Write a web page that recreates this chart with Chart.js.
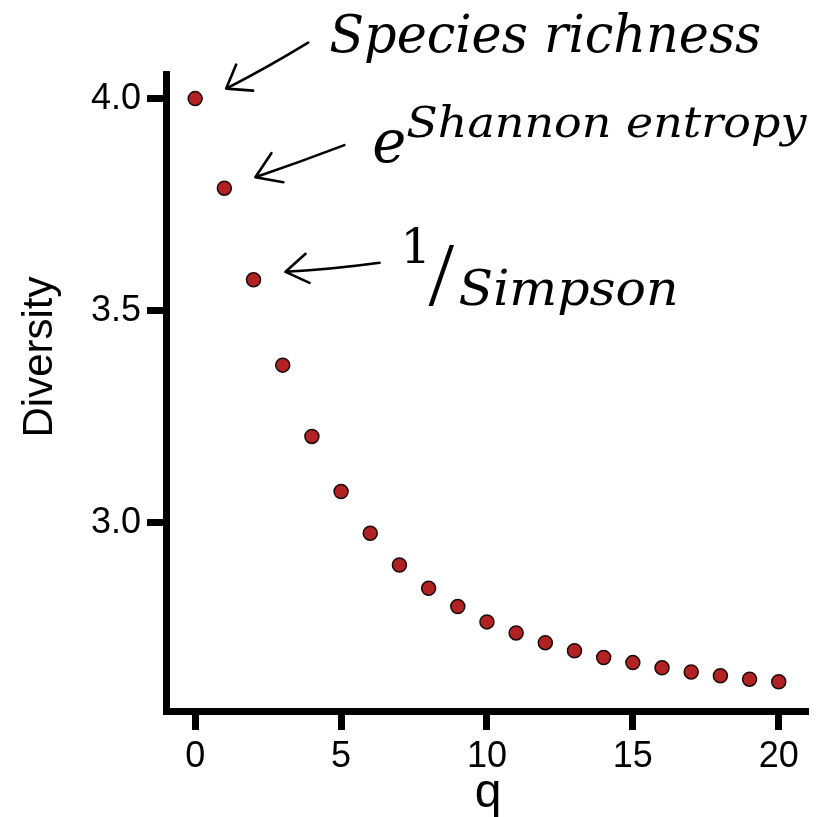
<!DOCTYPE html>
<html>
<head>
<meta charset="utf-8">
<script src="https://cdn.jsdelivr.net/npm/chart.js@4/dist/chart.umd.min.js"></script>
<style>
  html, body { margin: 0; padding: 0; background: #fff; }
  canvas { display: block; }
</style>
</head>
<body>
<canvas id="diversityChart" width="825" height="817"></canvas>
<script>
// Hill numbers of order q for one community
const qValues = [0, 1, 2, 3, 4, 5, 6, 7, 8, 9, 10, 11, 12, 13, 14, 15, 16, 17, 18, 19, 20];
const diversity = [
  4.0, 3.789, 3.573, 3.372, 3.204, 3.074, 2.976, 2.901, 2.846, 2.803, 2.767,
  2.741, 2.718, 2.699, 2.683, 2.671, 2.659, 2.649, 2.64, 2.632, 2.626,
];
const xTicks = [0, 5, 10, 15, 20];
const yTicks = [3.0, 3.5, 4.0];

const tickFont = "Liberation Sans";
const noteFont = "DejaVu Serif";

// draws text at a given size, squeezed sideways to the given width
function noteText(ctx, text, left, baseline, size, width, style, family) {
  ctx.font = style + " " + size + "px '" + (family || noteFont) + "'";
  const w = ctx.measureText(text).width;
  ctx.save();
  ctx.translate(left, baseline);
  if (width) ctx.scale(width / w, 1);
  ctx.fillText(text, 0, 0);
  ctx.restore();
}

// hand drawn looking arrow, offsets are relative to the point (px, py)
function arrow(ctx, px, py, tail, tip, h1, h2, bend) {
  const mx = (tail[0] + tip[0]) / 2;
  const my = (tail[1] + tip[1]) / 2;
  ctx.beginPath();
  ctx.moveTo(px + tail[0], py + tail[1]);
  ctx.quadraticCurveTo(px + mx, py + my + bend, px + tip[0], py + tip[1]);
  ctx.moveTo(px + h1[0], py + h1[1]);
  ctx.lineTo(px + tip[0], py + tip[1]);
  ctx.lineTo(px + h2[0], py + h2[1]);
  ctx.stroke();
}

const notesPlugin = {
  id: "notes",
  afterDraw(chart) {
    const { ctx } = chart;
    const xs = chart.scales.x;
    const ys = chart.scales.y;
    const at = (q) => [xs.getPixelForValue(qValues[q]), ys.getPixelForValue(diversity[q])];

    ctx.save();
    ctx.fillStyle = "#000";
    ctx.strokeStyle = "#000";
    ctx.lineWidth = 2.6;
    ctx.lineCap = "round";
    ctx.lineJoin = "round";
    ctx.textAlign = "left";
    ctx.textBaseline = "alphabetic";

    // q = 0
    let [px, py] = at(0);
    arrow(ctx, px, py, [113, -56], [31, -10], [41, -34], [58, -8], 2);
    noteText(ctx, "Species richness", px + 134, py - 47, 52, 432, "italic");

    // q = 1
    [px, py] = at(1);
    arrow(ctx, px, py, [120, -43], [31, -11], [47, -35], [59, -6], 1);
    noteText(ctx, "e", px + 148, py - 26, 60, 34, "italic");
    noteText(ctx, "Shannon entropy", px + 182, py - 51, 42, 400, "italic");

    // q = 2
    [px, py] = at(2);
    arrow(ctx, px, py, [126, -17], [32, -8], [52, -26], [56, 3], 2);
    noteText(ctx, "1", px + 147, py - 17, 48, 0, "normal");
    noteText(ctx, "/", px + 175, py + 25, 92, 0, "normal", "Liberation Serif");
    noteText(ctx, "Simpson", px + 205, py + 25, 48, 220, "italic");

    // axis titles
    ctx.font = "42px '" + tickFont + "'";
    ctx.textAlign = "center";
    ctx.save();
    ctx.translate(52, 357);
    ctx.rotate(-Math.PI / 2);
    ctx.fillText("Diversity", 0, 0);
    ctx.restore();
    ctx.font = "48px '" + tickFont + "'";
    ctx.fillText("q", 488, 807);
    ctx.restore();
  },
};

const axisStyle = {
  grid: {
    drawOnChartArea: false,
    drawTicks: true,
    tickLength: 19,
    tickWidth: 7,
    lineWidth: 7,
    color: "#000",
  },
  border: { display: true, width: 7, color: "#000" },
};

new Chart(document.getElementById("diversityChart"), {
  type: "scatter",
  data: {
    datasets: [
      {
        data: qValues.map((q, i) => ({ x: q, y: diversity[i] })),
        backgroundColor: "#b22222",
        borderColor: "#1a0a0a",
        borderWidth: 1.5,
        pointRadius: 7,
        pointHoverRadius: 7,
      },
    ],
  },
  options: {
    responsive: false,
    animation: false,
    layout: { padding: { top: 74, right: 20, left: 0, bottom: 0 } },
    plugins: { legend: { display: false }, tooltip: { enabled: false } },
    scales: {
      x: {
        type: "linear",
        min: -1,
        max: 20.9,
        ...axisStyle,
        afterBuildTicks: (s) => {
          s.ticks = xTicks.map((v) => ({ value: v }));
        },
        afterFit: (s) => {
          s.height = 106;
        },
        ticks: {
          color: "#000",
          padding: 5,
          font: { family: tickFont, size: 36 },
          callback: (v) => String(v),
        },
      },
      y: {
        type: "linear",
        min: 2.557,
        max: 4.058,
        ...axisStyle,
        afterBuildTicks: (s) => {
          s.ticks = yTicks.map((v) => ({ value: v }));
        },
        afterFit: (s) => {
          s.width = 166;
        },
        ticks: {
          color: "#000",
          padding: 6,
          font: { family: tickFont, size: 36 },
          callback: (v) => v.toFixed(1),
        },
      },
    },
  },
  plugins: [notesPlugin],
});
</script>
</body>
</html>
